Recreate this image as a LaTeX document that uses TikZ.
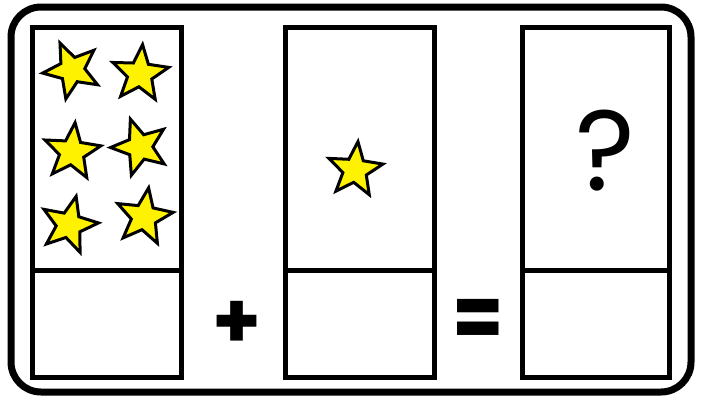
\documentclass[tikz,border=0pt]{standalone}
\usepackage{fontspec}
\setmainfont{Poppins}
\usetikzlibrary{shapes.geometric}
\tikzset{
  frame/.style={line width=7pt, rounded corners=30pt},
  panel/.style={line width=5pt},
  starshape/.style={star, star points=5, star point ratio=2.3, minimum size=59pt, inner sep=0pt, fill=yellow, draw=black, line width=3pt, line join=miter},
  sym/.style={inner sep=0pt}
}
\begin{document}
\begin{tikzpicture}[x=1pt,y=-1pt]
\useasboundingbox (0,0) rectangle (704,397);
\draw[frame] (11,7) rectangle (691,392);
% panels
\foreach \n/\a/\b in {L/32/181.5, M/285/434.5, R/522/669}{
  \draw[panel] (\a,27) rectangle (\b,377);
  \draw[panel] (\a,270.5) -- (\b,270.5);
}
% stars
\node[starshape, rotate=24] (s1) at (72,70) {};
\node[starshape, rotate=-5] (s2) at (140,74) {};
\node[starshape, rotate=-6] (s3) at (72,152) {};
\node[starshape, rotate=19] (s4) at (140,147) {};
\node[starshape, rotate=-14] (s5) at (69,225) {};
\node[starshape, rotate=-9] (s6) at (144,217) {};
\node[starshape, rotate=-6, minimum size=57pt] (s7) at (355,170) {};
% symbols
\node[sym, font=\fontsize{114}{114}\selectfont] (q) at (605,151) {?};
\node[sym, font=\fontsize{78}{78}\selectfont\bfseries] (plus) at (237,325) {+};
\node[sym, font=\fontsize{74}{74}\selectfont\bfseries, yscale=1.2] (eq) at (478,324) {=};
\end{tikzpicture}
\end{document}
